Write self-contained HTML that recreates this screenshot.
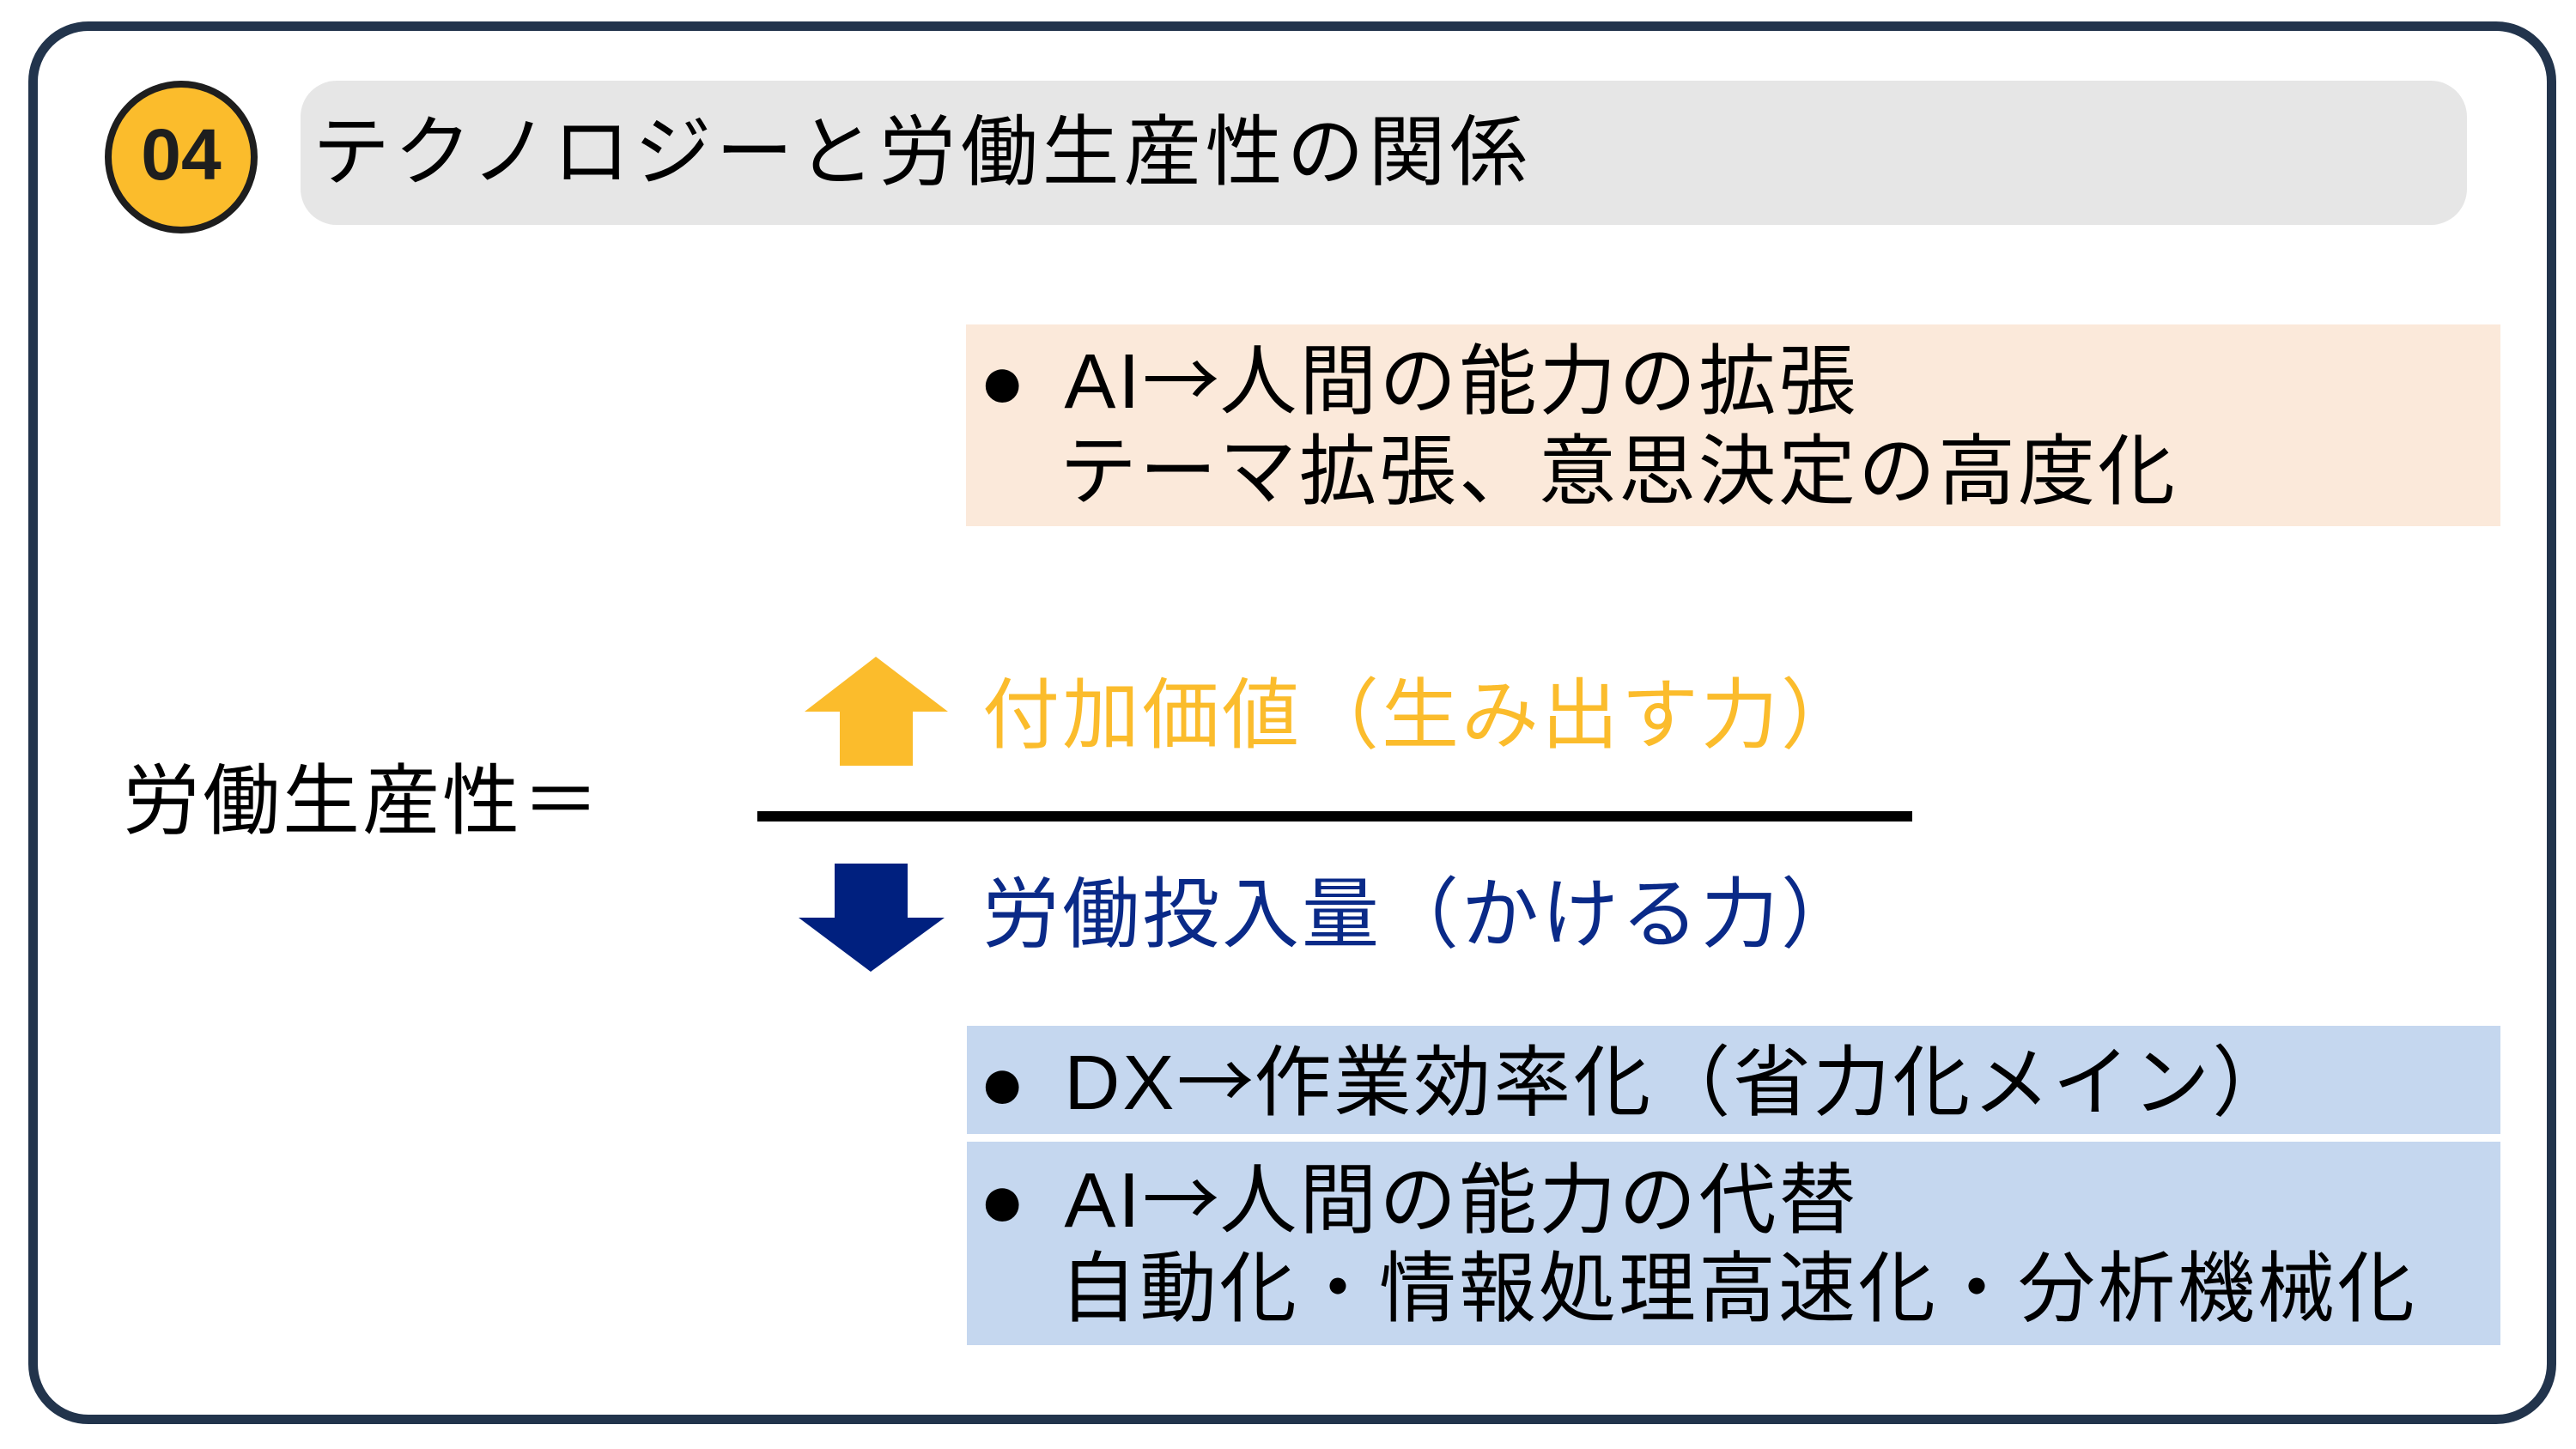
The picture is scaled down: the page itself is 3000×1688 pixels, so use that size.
<!DOCTYPE html>
<html><head><meta charset="utf-8"><style>
body{margin:0;width:3000px;height:1688px;background:#fff;position:relative;overflow:hidden;font-family:"Liberation Sans","Noto Sans CJK JP",sans-serif;}
.a{position:absolute;}
.t{position:absolute;white-space:nowrap;font-size:90px;line-height:100px;height:100px;letter-spacing:3px;color:#000;}
.ar{font-family:"Noto Sans CJK JP",sans-serif;letter-spacing:0;line-height:1;}
.b{margin-right:42px;}
</style></head><body>
<div class="a" style="left:33px;top:25px;width:2922px;height:1612px;border:11px solid #22344c;border-radius:70px;"></div>
<div class="a" style="left:122px;top:94px;width:162px;height:162px;border:8px solid #1e1e1e;border-radius:50%;background:#fbbc2c;"></div>
<div class="t" style="left:122px;top:130px;width:178px;text-align:center;font-weight:bold;font-size:84px;letter-spacing:0;color:#1e1e1e;">04</div>
<div class="a" style="left:350px;top:94px;width:2523px;height:168px;background:#e6e6e6;border-radius:42px;"></div>
<div class="t" style="left:364px;top:128px;letter-spacing:5px;">テクノロジーと労働生産性の関係</div>

<div class="a" style="left:1125px;top:378px;width:1787px;height:235px;background:#fbe9da;"></div>
<div class="t" style="left:1140px;top:391px;"><span class="b">●</span>AI<span class="ar">→</span>人間の能力の拡張</div>
<div class="t" style="left:1234px;top:500px;">テーマ拡張、意思決定の高度化</div>

<div class="t" style="left:143px;top:884px;">労働生産性＝</div>
<div class="a" style="left:882px;top:945px;width:1345px;height:12px;background:#000;"></div>

<svg class="a" style="left:0;top:0" width="3000" height="1688">
<polygon points="1020,765 1104,829 1063,829 1063,892 978,892 978,829 937,829" fill="#fbbc2c"/>
<polygon points="972,1006 1057,1006 1057,1069 1100,1069 1014,1132 930,1069 972,1069" fill="#00207f"/>
</svg>
<div class="t" style="left:1144px;top:784px;color:#fbbc2c;">付加価値（生み出す力）</div>
<div class="t" style="left:1144px;top:1016px;color:#0a2a88;">労働投入量（かける力）</div>

<div class="a" style="left:1126px;top:1195px;width:1786px;height:126px;background:#c5d7ef;"></div>
<div class="a" style="left:1126px;top:1330px;width:1786px;height:237px;background:#c5d7ef;"></div>
<div class="t" style="left:1140px;top:1208px;"><span class="b">●</span>DX<span class="ar">→</span>作業効率化（省力化メイン）</div>
<div class="t" style="left:1140px;top:1345px;"><span class="b">●</span>AI<span class="ar">→</span>人間の能力の代替</div>
<div class="t" style="left:1234px;top:1452px;">自動化・情報処理高速化・分析機械化</div>
</body></html>
